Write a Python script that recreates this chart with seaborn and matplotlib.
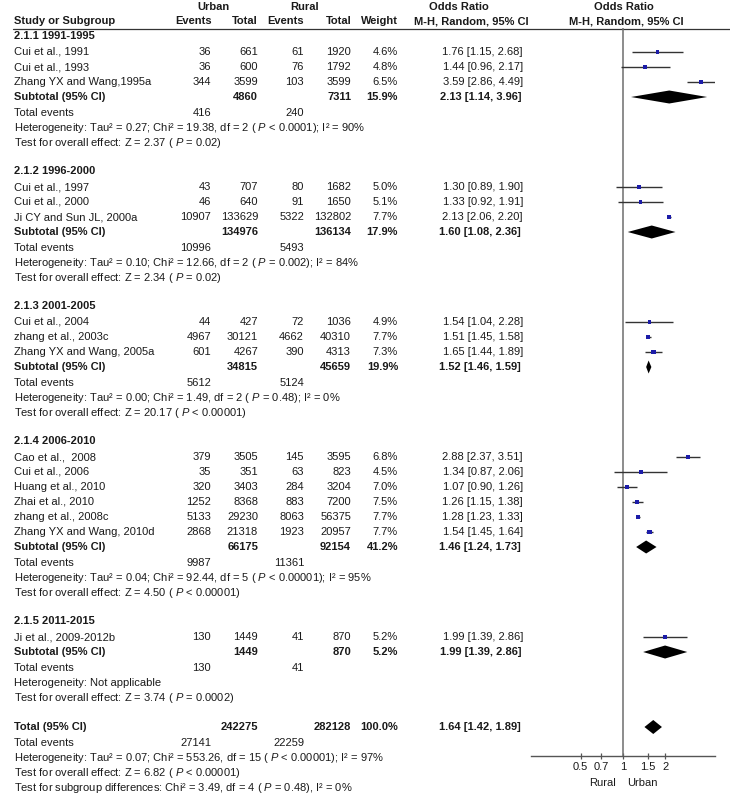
import numpy as np
import pandas as pd
import matplotlib
matplotlib.use("Agg")
import matplotlib.pyplot as plt
from matplotlib.ticker import NullLocator
import seaborn as sns

# ---- study level data ----
group_labels = ["2.1.1 1991-1995", "2.1.2 1996-2000", "2.1.3 2001-2005",
                "2.1.4 2006-2010", "2.1.5 2011-2015"]
study_group = [0, 0, 0, 1, 1, 1, 2, 2, 2, 3, 3, 3, 3, 3, 3, 4]
study_names = ["Cui et al., 1991", "Cui et al., 1993", "Zhang YX and Wang,1995a",
               "Cui et al., 1997", "Cui et al., 2000", "Ji CY and Sun JL, 2000a",
               "Cui et al., 2004", "zhang et al., 2003c", "Zhang YX and Wang, 2005a",
               "Cao et al.,  2008", "Cui et al., 2006", "Huang et al., 2010",
               "Zhai et al., 2010", "zhang et al., 2008c", "Zhang YX and Wang, 2010d",
               "Ji et al., 2009-2012b"]
urban_events = [36, 36, 344, 43, 46, 10907, 44, 4967, 601, 379, 35, 320, 1252, 5133, 2868, 130]
urban_total = [661, 600, 3599, 707, 640, 133629, 427, 30121, 4267, 3505, 351, 3403, 8368,
               29230, 21318, 1449]
rural_events = [61, 76, 103, 80, 91, 5322, 72, 4662, 390, 145, 63, 284, 883, 8063, 1923, 41]
rural_total = [1920, 1792, 3599, 1682, 1650, 132802, 1036, 40310, 4313, 3595, 823, 3204, 7200,
               56375, 20957, 870]
weights = [4.6, 4.8, 6.5, 5.0, 5.1, 7.7, 4.9, 7.7, 7.3, 6.8, 4.5, 7.0, 7.5, 7.7, 7.7, 5.2]
odds = [1.76, 1.44, 3.59, 1.30, 1.33, 2.13, 1.54, 1.51, 1.65, 2.88, 1.34, 1.07, 1.26, 1.28,
        1.54, 1.99]
ci_low = [1.15, 0.96, 2.86, 0.89, 0.92, 2.06, 1.04, 1.45, 1.44, 2.37, 0.87, 0.90, 1.15, 1.23,
          1.45, 1.39]
ci_high = [2.68, 2.17, 4.49, 1.90, 1.91, 2.20, 2.28, 1.58, 1.89, 3.51, 2.06, 1.26, 1.38, 1.33,
           1.64, 2.86]

# ---- subgroup summaries ----
sub_urban_total = [4860, 134976, 34815, 66175, 1449]
sub_rural_total = [7311, 136134, 45659, 92154, 870]
sub_weight = [15.9, 17.9, 19.9, 41.2, 5.2]
sub_or = [2.13, 1.60, 1.52, 1.46, 1.99]
sub_low = [1.14, 1.08, 1.46, 1.24, 1.39]
sub_high = [3.96, 2.36, 1.59, 1.73, 2.86]
sub_urban_events = [416, 10996, 5612, 9987, 130]
sub_rural_events = [240, 5493, 5124, 11361, 41]
sub_het = ["Heterogeneity: Tau² = 0.27; Chi² = 19.38, df = 2 ( $P$ < 0.0001); I² = 90%",
           "Heterogeneity: Tau² = 0.10; Chi² = 12.66, df = 2 ( $P$ = 0.002); I² = 84%",
           "Heterogeneity: Tau² = 0.00; Chi² = 1.49, df = 2 ( $P$ = 0.48); I² = 0%",
           "Heterogeneity: Tau² = 0.04; Chi² = 92.44, df = 5 ( $P$ < 0.00001); I² = 95%",
           "Heterogeneity: Not applicable"]
sub_z = ["Test for overall effect: Z = 2.37 ( $P$ = 0.02)",
         "Test for overall effect: Z = 2.34 ( $P$ = 0.02)",
         "Test for overall effect: Z = 20.17 ( $P$ < 0.00001)",
         "Test for overall effect: Z = 4.50 ( $P$ < 0.00001)",
         "Test for overall effect: Z = 3.74 ( $P$ = 0.0002)"]

# ---- overall ----
total_urban, total_rural = 242275, 282128
total_urban_events, total_rural_events = 27141, 22259
total_or, total_low, total_high = 1.64, 1.42, 1.89
total_lines = ["Heterogeneity: Tau² = 0.07; Chi² = 553.26, df = 15 ( $P$ < 0.00001); I² = 97%",
               "Test for overall effect: Z = 6.82 ( $P$ < 0.00001)",
               "Test for subgroup differences: Chi² = 3.49, df = 4 ( $P$ = 0.48), I² = 0%"]
axis_ticks = [0.5, 0.7, 1, 1.5, 2]
axis_ticklabels = ["0.5", "0.7", "1", "1.5", "2"]

sns.set_style("white")
plt.rcParams['font.family'] = ['Liberation Sans', 'DejaVu Sans']
plt.rcParams['mathtext.fontset'] = 'custom'
plt.rcParams['mathtext.rm'] = 'Liberation Sans'
plt.rcParams['mathtext.it'] = 'Liberation Sans:italic'
plt.rcParams['mathtext.bf'] = 'Liberation Sans:bold'

W, H = 730, 799
FS = 8
TXT = '#1a1a1a'
fig = plt.figure(figsize=(W / 100, H / 100), dpi=100)
tx = fig.add_axes([0, 0, 1, 1])
tx.set_xlim(0, W)
tx.set_ylim(H, 0)
tx.axis('off')

# column positions (pixels)
X_NAME, X_UE, X_UT, X_RE, X_RT, X_W, X_OR = 14, 211, 258, 304, 351, 398, 523


def put(x, y, s, ha='left', bold=False):
    tx.text(x, y, s, ha=ha, va='center', fontsize=FS, color=TXT,
            fontweight='bold' if bold else 'normal')


# header
put(213, 7, "Urban", 'center', True)
put(305, 7, "Rural", 'center', True)
put(459, 7, "Odds Ratio", 'center', True)
put(624, 7, "Odds Ratio", 'center', True)
put(X_NAME, 21, "Study or Subgroup", bold=True)
put(X_UE + 1, 21, "Events", 'right', True)
put(X_UT, 21, "Total", 'right', True)
put(X_RE, 21, "Events", 'right', True)
put(X_RT + 1, 21, "Total", 'right', True)
put(X_W, 21, "Weight", 'right', True)
put(471, 21, "M-H, Random, 95% CI", 'center', True)
put(626, 21, "M-H, Random, 95% CI", 'center', True)
tx.plot([13, W], [28.5, 28.5], color='#333333', lw=0.9)

# row layout
study_y = [0.0] * len(study_names)
sub_y = []
y = 36
for g, label in enumerate(group_labels):
    put(X_NAME, y, label, bold=True)
    y += 16
    for i in [k for k, s in enumerate(study_group) if s == g]:
        study_y[i] = y
        put(X_NAME, y, study_names[i])
        put(X_UE, y, str(urban_events[i]), 'right')
        put(X_UT, y, str(urban_total[i]), 'right')
        put(X_RE, y, str(rural_events[i]), 'right')
        put(X_RT, y, str(rural_total[i]), 'right')
        put(X_W, y, f"{weights[i]:.1f}%", 'right')
        put(X_OR, y, f"{odds[i]:.2f} [{ci_low[i]:.2f}, {ci_high[i]:.2f}]", 'right')
        y += 15
    sub_y.append(y)
    put(X_NAME, y, "Subtotal (95% CI)", bold=True)
    put(X_UT, y, str(sub_urban_total[g]), 'right', True)
    put(X_RT, y, str(sub_rural_total[g]), 'right', True)
    put(X_W, y, f"{sub_weight[g]:.1f}%", 'right', True)
    put(X_OR - 2, y, f"{sub_or[g]:.2f} [{sub_low[g]:.2f}, {sub_high[g]:.2f}]", 'right', True)
    y += 16
    put(X_NAME, y, "Total events")
    put(X_UE, y, str(sub_urban_events[g]), 'right')
    put(X_RE, y, str(sub_rural_events[g]), 'right')
    y += 15
    put(X_NAME, y, sub_het[g])
    y += 15
    put(X_NAME, y, sub_z[g])
    y += 28

y += 1
total_y = y
put(X_NAME, y, "Total (95% CI)", bold=True)
put(X_UT, y, str(total_urban), 'right', True)
put(X_RT, y, str(total_rural), 'right', True)
put(X_W, y, "100.0%", 'right', True)
put(X_OR - 2, y, f"{total_or:.2f} [{total_low:.2f}, {total_high:.2f}]", 'right', True)
y += 16
put(X_NAME, y, "Total events")
put(X_UE, y, str(total_urban_events), 'right')
put(X_RE, y, str(total_rural_events), 'right')
for line in total_lines:
    y += 15
    put(X_NAME, y, line)

put(603, 783, "Rural", 'center')
put(642, 783, "Urban", 'center')

# ---- forest panel ----
Y_AX, Y_TOP, XL, XR = 756, 28, 531, 715
fx = fig.add_axes([XL / W, 1 - Y_AX / H, (XR - XL) / W, (Y_AX - Y_TOP) / H])
fx.patch.set_alpha(0)

fx.axvline(1, color='#6e6e6e', lw=1.1, zorder=1)
fx.hlines(study_y, ci_low, ci_high, color='#333333', lw=1.0, zorder=2)
df = pd.DataFrame({'odds': odds, 'y': study_y, 'w': weights})
sns.scatterplot(data=df, x='odds', y='y', size='w', sizes=(7, 10), marker='s',
                color='#1c1ca8', edgecolor='none', legend=False, ax=fx, zorder=3)

for g in range(len(group_labels)):
    fx.fill([sub_low[g], sub_or[g], sub_high[g], sub_or[g]],
            [sub_y[g], sub_y[g] - 6.5, sub_y[g], sub_y[g] + 6.5],
            color='black', lw=0, zorder=3)
fx.fill([total_low, total_or, total_high, total_or],
        [total_y, total_y - 7, total_y, total_y + 7], color='black', lw=0, zorder=3)

fx.set_xscale('log')
fx.set_xlim(1 / 4.5, 4.5)
fx.set_ylim(Y_AX, Y_TOP)
fx.set_xticks(axis_ticks)
fx.set_xticklabels(axis_ticklabels)
fx.xaxis.set_minor_locator(NullLocator())
fx.set_yticks([])
fx.set_xlabel('')
fx.set_ylabel('')
for side in ['left', 'right', 'top']:
    fx.spines[side].set_visible(False)
fx.spines['bottom'].set_color('#555555')
fx.spines['bottom'].set_linewidth(1.0)
fx.tick_params(axis='x', direction='inout', length=5, width=0.9, color='#555555',
               labelsize=FS, labelcolor=TXT, pad=2, bottom=True)

fig.savefig("out.png", dpi=100)
